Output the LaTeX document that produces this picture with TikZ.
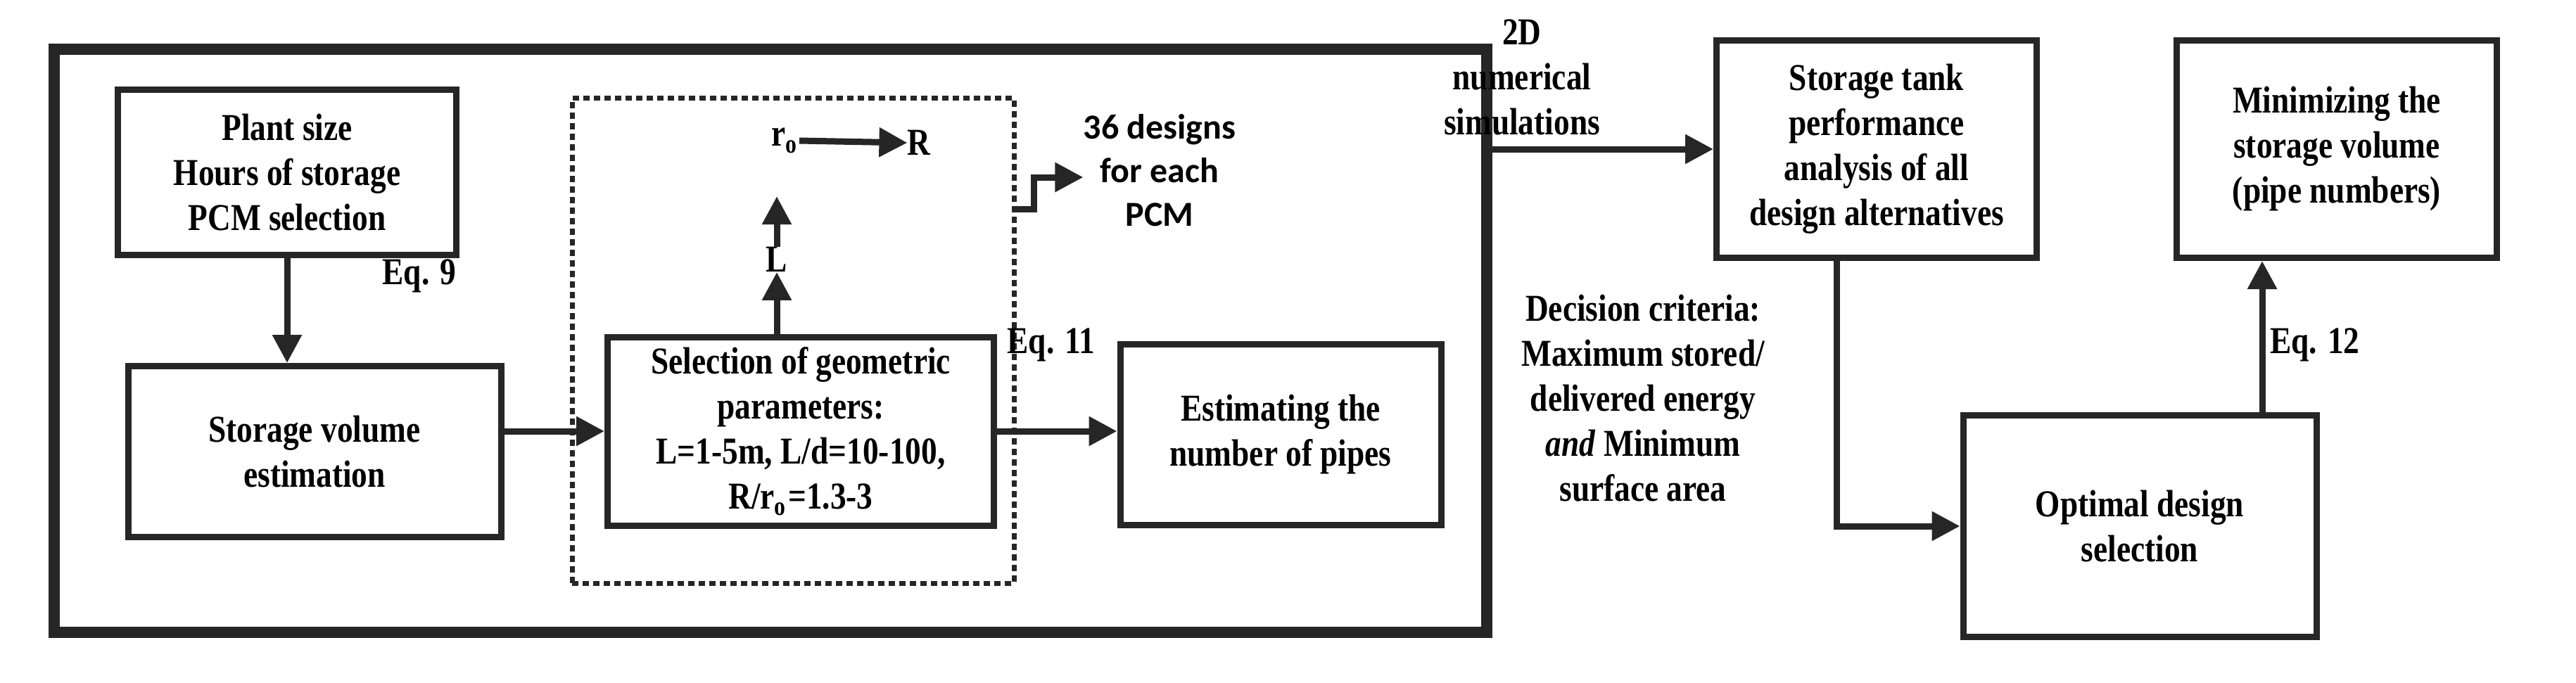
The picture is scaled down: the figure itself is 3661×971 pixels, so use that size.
\documentclass[tikz,border=0pt]{standalone}
\usepackage{fontspec}
\setmainfont{Liberation Serif}[BoldFont={Liberation Serif Bold},ItalicFont={Liberation Serif Italic},BoldItalicFont={Liberation Serif Bold Italic},FakeStretch=0.84]
\newfontfamily\sansc{Carlito}
\usetikzlibrary{arrows.meta}
\begin{document}
\begin{tikzpicture}[x=1pt,y=-1pt,
  box/.style={draw=black!85,line width=9pt,align=center,inner sep=0pt,font=\fontsize{54}{64}\selectfont\bfseries},
  lbl/.style={align=center,inner sep=0pt,font=\fontsize{54}{64}\selectfont\bfseries},
  arr/.style={draw=black!85,line width=9pt,-{Triangle[length=40pt,width=40pt]}},
  ]
\useasboundingbox (0,0) rectangle (3661,971);
\node[draw=black!85,line width=16pt,minimum width=2036pt,minimum height=829pt,inner sep=0pt] (frame) at (1095,484.5) {};
\node[draw=black!85,line width=7pt,dash pattern=on 9pt off 6pt,minimum width=628pt,minimum height=689pt,inner sep=0pt] (dash) at (1127,484.5) {};
\node[box,minimum width=481pt,minimum height=234pt] (plant) at (408,245) {Plant size\\Hours of storage\\PCM selection};
\node[box,minimum width=530pt,minimum height=243pt] (vol) at (447,642) {Storage volume\\estimation};
\node[box,minimum width=549pt,minimum height=268pt] (sel) at (1138,613) {Selection of geometric\\parameters:\\L=1-5m, L/d=10-100,\\R/r$_\mathbf{o}$=1.3-3};
\node[box,minimum width=456pt,minimum height=257pt] (est) at (1820,618) {Estimating the\\number of pipes};
\node[box,minimum width=455pt,minimum height=309pt] (tank) at (2667,212) {Storage tank\\performance\\analysis of all\\design alternatives};
\node[box,minimum width=455pt,minimum height=309pt] (mini) at (3321,212) {Minimizing the\\storage volume\\(pipe numbers)};
\node[box,minimum width=502pt,minimum height=315pt] (opt) at (3041,748) {Optimal design\\selection};
\node[lbl] (eq9) at (596,392) {Eq. 9};
\node[lbl] (eq11) at (1494,490) {Eq. 11};
\node[lbl] (eq12) at (3290,490) {Eq. 12};
\node[lbl] (L) at (1104,369) {L};
\node[lbl] (r0) at (1116,200) {r$_\mathbf{o}$};
\node[lbl] (R) at (1306,203) {R};
\node[align=center,inner sep=0pt,font=\sansc\fontsize{50}{62}\selectfont\bfseries] (d36) at (1648,242) {36 designs\\for each\\PCM};
\node[lbl] (sim) at (2163,110) {2D\\numerical\\simulations};
\node[lbl] (dec) at (2335,566) {Decision criteria:\\Maximum stored/\\delivered energy\\\textit{and} Minimum\\surface area};
\coordinate (s) at (1441,297);
\draw[arr] (plant.south) -- (plant.south |- vol.north);
\draw[arr] (vol.east |- sel.west) -- (sel.west);
\draw[arr] (sel.east) -- (sel.east -| est.west);
\draw[arr] (sel.north -| L) -- (L.south);
\draw[arr] (L.north) -- ++(0,-72);
\draw[arr] (r0.east) -- (R.west);
\draw[arr] (s) -- ++(28,0) |- ([yshift=-10pt]d36.west);
\draw[arr] (frame.east |- tank.west) -- (tank.west);
\draw[arr] ([xshift=-57pt]tank.south) |- (opt.west);
\draw[arr] ([xshift=174pt]opt.north) -- ([xshift=174pt]opt.north |- mini.south);
\end{tikzpicture}
\end{document}
